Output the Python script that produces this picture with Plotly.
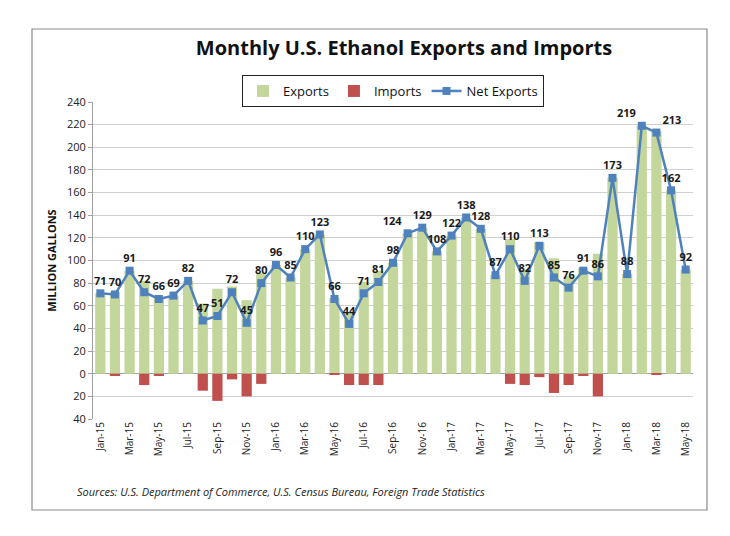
import plotly.graph_objects as go

months = ["Jan-15","Feb-15","Mar-15","Apr-15","May-15","Jun-15","Jul-15","Aug-15","Sep-15","Oct-15","Nov-15","Dec-15",
          "Jan-16","Feb-16","Mar-16","Apr-16","May-16","Jun-16","Jul-16","Aug-16","Sep-16","Oct-16","Nov-16","Dec-16",
          "Jan-17","Feb-17","Mar-17","Apr-17","May-17","Jun-17","Jul-17","Aug-17","Sep-17","Oct-17","Nov-17","Dec-17",
          "Jan-18","Feb-18","Mar-18","Apr-18","May-18"]
exports = [71, 72, 91, 82, 68, 69, 82, 62, 75, 77, 65, 89,
           96, 85, 110, 123, 67, 54, 81, 91, 98, 124, 129, 108,
           122, 138, 128, 87, 119, 92, 116, 102, 86, 93, 106, 173,
           88, 219, 214, 162, 92]
imports = [0, -2, 0, -10, -2, 0, 0, -15, -24, -5, -20, -9,
           0, 0, 0, 0, -1, -10, -10, -10, 0, 0, 0, 0,
           0, 0, 0, 0, -9, -10, -3, -17, -10, -2, -20, 0,
           0, 0, -1, 0, 0]
net_exports = [71, 70, 91, 72, 66, 69, 82, 47, 51, 72, 45, 80,
               96, 85, 110, 123, 66, 44, 71, 81, 98, 124, 129, 108,
               122, 138, 128, 87, 110, 82, 113, 85, 76, 91, 86, 173,
               88, 219, 213, 162, 92]
y_ticks = list(range(-40, 241, 20))
y_tick_text = [str(abs(v)) for v in y_ticks]

FONT = "Open Sans"

label_pos = ["top center"] * len(months)
label_pos[months.index("Oct-16")] = "top left"
label_pos[months.index("Feb-18")] = "top left"
label_pos[months.index("Mar-18")] = "top right"

fig = go.Figure()
fig.add_trace(go.Bar(x=months, y=exports, name="Exports", marker_color="#C3D69B",
                     marker_line_width=0))
fig.add_trace(go.Bar(x=months, y=imports, name="Imports", marker_color="#C0504D",
                     marker_line_width=0))
fig.add_trace(go.Scatter(x=months, y=net_exports, name="Net Exports", mode="lines+markers+text",
                         line=dict(color="#4F81BD", width=2.5),
                         marker=dict(symbol="square", size=8, color="#4F81BD"),
                         text=[str(v) for v in net_exports], textposition=label_pos,
                         textfont=dict(family=FONT, size=11, color="#1a1a1a", weight="bold")))

L, R, T, B = 93, 693, 102, 419
W, H = 730, 536
pw, ph = R - L, B - T

fig.update_layout(
    width=W, height=H,
    margin=dict(l=L, r=W - R, t=T, b=H - B),
    paper_bgcolor="white", plot_bgcolor="white",
    barmode="relative", bargap=0.3,
    font=dict(family=FONT, size=11, color="#222"),
    title=dict(text="<b>Monthly U.S. Ethanol Exports and Imports</b>",
               x=(404) / W, xanchor="center", y=1 - 48 / H, yanchor="middle",
               font=dict(family=FONT, size=20, color="#111")),
    legend=dict(orientation="h", x=(393 - L) / pw, xanchor="center",
                y=(B - 75) / ph, yanchor="top",
                bordercolor="#222", borderwidth=1, bgcolor="white",
                font=dict(family=FONT, size=13, color="#111"),
                itemwidth=30, traceorder="normal"),
    showlegend=True,
)
fig.update_xaxes(type="category", tickmode="array", tickvals=months[::2], ticktext=months[::2],
                 tickangle=-90, tickfont=dict(size=10), showgrid=False,
                 showline=False, ticks="", range=[-0.5, len(months) - 0.5])
fig.update_yaxes(range=[-40, 240], tickmode="array", tickvals=y_ticks, ticktext=y_tick_text,
                 showgrid=True, gridcolor="#D0D0D0", gridwidth=1,
                 zeroline=True, zerolinecolor="#A0A0A0", zerolinewidth=1,
                 showline=True, linecolor="#A0A0A0", ticks="outside", ticklen=4, tickcolor="#A0A0A0",
                 tickfont=dict(size=11),
                 title=dict(text="<b>MILLION GALLONS</b>", font=dict(size=11, color="#111"), standoff=8))

# outer chart frame
fig.add_shape(type="rect", xref="paper", yref="paper",
              x0=(32 - L) / pw, x1=(707 - L) / pw, y0=(B - 510) / ph, y1=(B - 29) / ph,
              line=dict(color="#8C8C8C", width=1.2), fillcolor="rgba(0,0,0,0)", layer="below")

fig.add_annotation(text="<i>Sources: U.S. Department of Commerce, U.S. Census Bureau, Foreign Trade Statistics</i>",
                   xref="paper", yref="paper", x=(75 - L) / pw, y=(B - 491) / ph,
                   xanchor="left", yanchor="middle", showarrow=False,
                   font=dict(family=FONT, size=11, color="#222"))

fig.write_html("out.html")
